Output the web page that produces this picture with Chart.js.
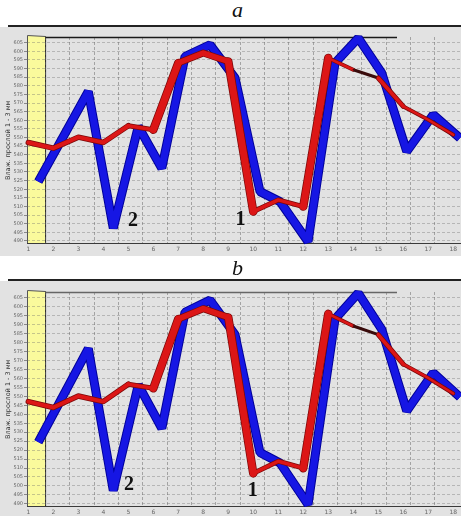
<!DOCTYPE html>
<html>
<head>
<meta charset="utf-8">
<script src="https://cdn.jsdelivr.net/npm/chart.js@4/dist/chart.umd.min.js"></script>
<style>
  html, body { margin: 0; padding: 0; background: #fff; }
  body { width: 461px; height: 516px; position: relative; overflow: hidden; }
  .ttl { position: absolute; left: 7px; width: 461px; text-align: center;
         font: italic 22px "Liberation Serif", "DejaVu Serif", serif; color: #111; line-height: 25px; }
  .rule { position: absolute; left: 8px; right: 0; height: 2px; background: #222; }
  .panel { position: absolute; left: 0; width: 461px; background: #e2e2e2; }
  canvas { display: block; }
</style>
</head>
<body>
<div class="ttl" style="top:-3px">a</div>
<div class="rule" style="top:25px"></div>
<div class="panel" style="top:27px;height:229px"><canvas id="chartA" width="461" height="229"></canvas></div>
<div class="ttl" style="top:255px">b</div>
<div class="rule" style="top:279px"></div>
<div class="panel" style="top:281px;height:235px"><canvas id="chartB" width="461" height="235"></canvas></div>

<script>
// Measurement steps along the horizontal axis
const steps = [1, 2, 3, 4, 5, 6, 7, 8, 9, 10, 11, 12, 13, 14, 15, 16, 17, 18];
// Vertical axis tick values
const yTicks = [490, 495, 500, 505, 510, 515, 520, 525, 530, 535, 540, 545,
                550, 555, 560, 565, 570, 575, 580, 585, 590, 595, 600, 605];

// Curve 1 (red): one value per step
const curve1 = [547.1, 543.8, 550.2, 547.1, 556.8, 554.5, 593.2, 599.0, 594.1,
                507.0, 513.8, 509.9, 596.1, 589.3, 584.5, 568.0, 560.3, 551.6];

// Curve 2 (blue): sampled at its own positions
const curve2X = [1.40, 3.40, 4.40, 5.40, 6.34, 7.27, 8.27, 9.27, 10.27,
                 11.07, 12.19, 13.27, 14.20, 15.14, 16.14, 17.20, 18.27];
const curve2 = [524.4, 576.7, 497.4, 556.4, 532.2, 597.0, 603.8, 584.5, 518.6,
                512.8, 489.6, 593.2, 607.7, 587.4, 541.9, 563.2, 549.6];

// Stroke width of each red segment (the trace thickens on the steep runs)
const curve1Widths = [4, 4, 4, 4, 3.5, 7, 5.5, 5.5, 7, 3.5, 3.5, 7, 2.5, 1.5, 3.5, 2.5, 2.5];

const RED = '#dc1616', RED_EDGE = '#7c0808', RED_DARK = '#3a0c0c';
const BLUE = '#1616e4', BLUE_EDGE = '#00009a';

// Yellow strip, frame top line and the curve numbers
const decor = {
  id: 'decor',
  beforeDraw(chart) {
    const { ctx, chartArea: a, scales: { xg } } = chart;
    const xr = xg.getPixelForValue(2);
    ctx.save();
    ctx.fillStyle = '#fafa9c';
    ctx.fillRect(a.left, a.top - 1, xr - a.left, a.bottom - a.top + 1);
    ctx.strokeStyle = '#555';
    ctx.lineWidth = 1;
    ctx.beginPath();
    ctx.moveTo(a.left + 0.5, a.bottom);
    ctx.lineTo(a.left + 0.5, a.top - 1.5);
    ctx.lineTo(xr, a.top - 0.5);
    ctx.stroke();
    ctx.strokeStyle = '#222';
    ctx.beginPath();
    ctx.moveTo(xr, a.top - 0.5);
    ctx.lineTo(xr, a.bottom);
    ctx.stroke();
    ctx.restore();
  },
  beforeDatasetsDraw(chart, args, opts) {
    const { ctx, chartArea: a, scales: { xg } } = chart;
    ctx.save();
    ctx.strokeStyle = opts.topLine;
    ctx.lineWidth = 1.5;
    ctx.beginPath();
    ctx.moveTo(xg.getPixelForValue(2), a.top + 0.5);
    ctx.lineTo(xg.getPixelForValue(16.44), a.top + 0.5);
    ctx.stroke();
    ctx.restore();
  },
  afterDatasetsDraw(chart, args, opts) {
    const { ctx, scales: { x, y } } = chart;
    ctx.save();
    ctx.fillStyle = '#111';
    ctx.font = 'bold 20px "Liberation Serif", "DejaVu Serif", serif';
    ctx.textAlign = 'center';
    ctx.textBaseline = 'middle';
    for (const m of opts.marks) {
      ctx.fillText(m.text, x.getPixelForValue(m.x), y.getPixelForValue(m.y));
    }
    ctx.restore();
  }
};

// Each curve is stroked twice: a darker, wider pass under the coloured one
function redPass(edge) {
  return {
    label: edge ? '1-edge' : '1',
    data: steps.map((s, i) => ({ x: s, y: curve1[i] })),
    borderColor: edge ? RED_EDGE : RED,
    borderWidth: 4,
    borderJoinStyle: 'round',
    borderCapStyle: 'round',
    segment: {
      borderWidth: c => curve1Widths[c.p0DataIndex] + (edge ? 1.5 : 0),
      borderColor: c => (c.p0DataIndex === 13 ? RED_DARK : (edge ? RED_EDGE : RED))
    },
    pointRadius: 0,
    tension: 0,
    order: edge ? 1 : 0,
    clip: 10
  };
}
function bluePass(edge) {
  return {
    label: edge ? '2-edge' : '2',
    data: curve2X.map((s, i) => ({ x: s, y: curve2[i] })),
    borderColor: edge ? BLUE_EDGE : BLUE,
    borderWidth: edge ? 9 : 7,
    borderJoinStyle: 'bevel',
    pointRadius: 0,
    tension: 0,
    order: edge ? 3 : 2,
    clip: 10
  };
}

function buildPanel(id, cfg) {
  return new Chart(document.getElementById(id), {
    type: 'line',
    data: { datasets: [redPass(false), redPass(true), bluePass(false), bluePass(true)] },
    options: {
      responsive: false,
      animation: false,
      devicePixelRatio: 1,
      layout: { padding: { left: 0, right: 0, top: cfg.top, bottom: 0 } },
      plugins: {
        legend: { display: false },
        tooltip: { enabled: false },
        decor: { marks: cfg.marks, topLine: cfg.topLine }
      },
      scales: {
        x: {
          type: 'linear',
          min: 0.948,
          max: 18.31,
          position: 'bottom',
          afterBuildTicks: s => { s.ticks = steps.map(v => ({ value: v })); },
          ticks: {
            autoSkip: false, maxRotation: 0, padding: 2,
            color: '#666', font: { size: 6, family: 'DejaVu Sans' },
            callback: v => String(v)
          },
          grid: { display: false, drawTicks: false },
          border: { display: true, color: '#3a3a3a', width: 1 },
          afterFit: s => { s.height = cfg.xAxisH; }
        },
        xg: {
          type: 'linear',
          min: 1.236,
          max: 19.07,
          position: 'bottom',
          afterBuildTicks: s => {
            const t = [];
            for (let k = 2; k <= 18; k++) t.push({ value: k });
            s.ticks = t;
          },
          ticks: { display: false },
          grid: { color: 'rgba(100,100,100,0.5)', lineWidth: 1, drawTicks: false },
          border: { display: false, dash: [3, 2] },
          afterFit: s => { s.height = 0; }
        },
        y: {
          type: 'linear',
          min: 488.5,
          max: 608.3,
          afterBuildTicks: s => { s.ticks = yTicks.map(v => ({ value: v })); },
          ticks: {
            autoSkip: false, padding: 1,
            color: '#666', font: { size: 5, family: 'DejaVu Sans' },
            callback: v => String(v)
          },
          grid: {
            color: 'rgba(110,110,110,0.38)', lineWidth: 1,
            tickLength: 3, tickColor: '#888', tickBorderDash: []
          },
          border: { display: false, dash: [3, 2] },
          title: {
            display: true,
            text: 'Влаж. прослой 1 - 3 мм',
            color: '#333',
            font: { size: 6.5, family: 'DejaVu Sans' },
            padding: { top: 4, bottom: 0 }
          },
          afterFit: s => { s.width = 27; }
        }
      }
    },
    plugins: [decor]
  });
}

buildPanel('chartA', {
  top: 10, xAxisH: 12.5, topLine: '#1a1a1a',
  marks: [{ text: '2', x: 5.19, y: 501.6 }, { text: '1', x: 9.49, y: 502.2 }]
});
buildPanel('chartB', {
  top: 11, xAxisH: 9.5, topLine: '#666',
  marks: [{ text: '2', x: 5.03, y: 500.8 }, { text: '1', x: 9.98, y: 497.5 }]
});
</script>
</body>
</html>
